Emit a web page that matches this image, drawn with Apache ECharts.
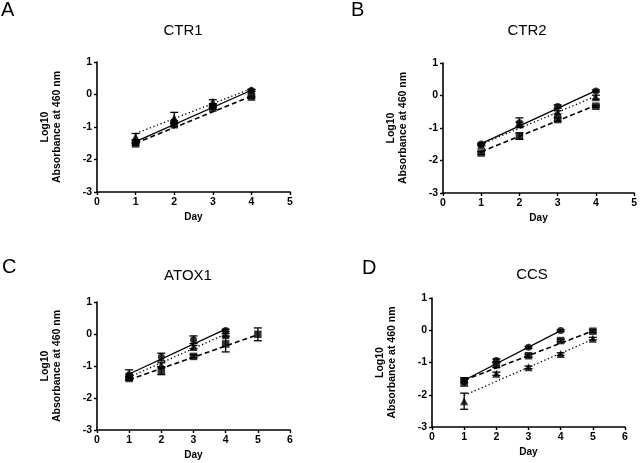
<!DOCTYPE html>
<html><head><meta charset="utf-8">
<script src="https://cdn.jsdelivr.net/npm/echarts@6/dist/echarts.min.js"></script>
<style>html,body{margin:0;padding:0;background:#fff}#c{width:640px;height:463px}</style>
</head><body><div id="c"></div>
<script>
// ---- data ----
const days = [1, 2, 3, 4, 5];
const panelLetters = ['A', 'B', 'C', 'D'];
const panelTitles = ['CTR1', 'CTR2', 'ATOX1', 'CCS'];
const xMaxes = [5, 5, 6, 6];
const yTicks = [-3, -2, -1, 0, 1];

// circle series (solid fit), square series (dashed fit), triangle series (dotted fit)
const A_circle = [-1.45, -0.85, -0.36, 0.12];
const A_square = [-1.52, -0.93, -0.42, -0.08];
const A_triangle = [-1.3, -0.72, -0.22, 0.13];
const A_circleErr = [0.05, 0.05, 0.04, 0.03];
const A_squareErr = [0.04, 0.05, 0.04, 0.03];
const A_triangleErr = [0.1, 0.17, 0.06, 0.03];
const A_fitCircle = [-1.45, 0.13];
const A_fitSquare = [-1.5, -0.05];
const A_fitTriangle = [-1.2, 0.18];

const B_circle = [-1.49, -0.84, -0.34, 0.14];
const B_square = [-1.77, -1.25, -0.74, -0.33];
const B_triangle = [-1.52, -0.88, -0.52, -0.05];
const B_circleErr = [0.03, 0.15, 0.05, 0.03];
const B_squareErr = [0.04, 0.1, 0.05, 0.03];
const B_triangleErr = [0.03, 0.06, 0.05, 0.06];
const B_fitCircle = [-1.48, 0.15];
const B_fitSquare = [-1.73, -0.3];
const B_fitTriangle = [-1.5, -0.02];

const C_circle = [-1.27, -0.72, -0.18, 0.11];
const C_square = [-1.39, -1.15, -0.7, -0.31, -0.01];
const C_triangle = [-1.3, -0.96, -0.41, -0.04];
const C_circleErr = [0.15, 0.12, 0.12, 0.04];
const C_squareErr = [0.06, 0.12, 0.05, 0.25, 0.2];
const C_triangleErr = [0.05, 0.06, 0.05, 0.05];
const C_fitCircle = [-1.25, 0.15];
const C_fitSquare = [-1.43, -0.02];
const C_fitTriangle = [-1.35, 0.0];

const D_circle = [-1.58, -0.94, -0.53, -0.01];
const D_square = [-1.6, -1.07, -0.79, -0.32, -0.03];
const D_triangle = [-2.2, -1.35, -1.15, -0.74, -0.26];
const D_circleErr = [0.05, 0.05, 0.03, 0.03];
const D_squareErr = [0.13, 0.08, 0.05, 0.04, 0.04];
const D_triangleErr = [0.25, 0.05, 0.04, 0.04, 0.04];
const D_fitCircle = [-1.55, -0.01];
const D_fitSquare = [-1.55, -0.02];
const D_fitTriangle = [-2.02, -0.28];

const panels = [
  {c: A_circle, s: A_square, t: A_triangle, ce: A_circleErr, se: A_squareErr, te: A_triangleErr, fc: A_fitCircle, fs: A_fitSquare, ft: A_fitTriangle},
  {c: B_circle, s: B_square, t: B_triangle, ce: B_circleErr, se: B_squareErr, te: B_triangleErr, fc: B_fitCircle, fs: B_fitSquare, ft: B_fitTriangle},
  {c: C_circle, s: C_square, t: C_triangle, ce: C_circleErr, se: C_squareErr, te: C_triangleErr, fc: C_fitCircle, fs: C_fitSquare, ft: C_fitTriangle},
  {c: D_circle, s: D_square, t: D_triangle, ce: D_circleErr, se: D_squareErr, te: D_triangleErr, fc: D_fitCircle, fs: D_fitSquare, ft: D_fitTriangle}
];

// ---- layout ----
const grids = [
  {left: 97, top: 62, width: 193, height: 130},
  {left: 443, top: 63, width: 193, height: 130},
  {left: 97, top: 302, width: 193, height: 128},
  {left: 432, top: 298, width: 193, height: 129}
];
const letterPos = [[1, 10], [351, 10], [2, 267], [362, 268]];
const titlePos = [[183, 31], [527, 31], [188, 276], [532, 275]];

const FONT = 'Liberation Sans, Arial, sans-serif';
const chart = echarts.init(document.getElementById('c'), null, {renderer: 'canvas'});

const option = {
  animation: false,
  backgroundColor: '#fff',
  grid: [], xAxis: [], yAxis: [], series: [], graphic: []
};

function pts(vals) { return vals.map((v, i) => [days[i], v]); }
function errData(vals, errs) { return vals.map((v, i) => [days[i], v - errs[i], v + errs[i]]); }
function fitData(f, n) { return [[days[0], f[0]], [days[n - 1], f[1]]]; }

function errSeries(idx, vals, errs) {
  return {
    type: 'custom', xAxisIndex: idx, yAxisIndex: idx, z: 3,
    data: errData(vals, errs),
    renderItem: function (params, api) {
      const x = api.value(0);
      const lo = api.coord([x, api.value(1)]);
      const hi = api.coord([x, api.value(2)]);
      const w = 4;
      const st = {stroke: '#000', lineWidth: 1.3};
      return {type: 'group', children: [
        {type: 'line', shape: {x1: lo[0], y1: lo[1], x2: hi[0], y2: hi[1]}, style: st},
        {type: 'line', shape: {x1: lo[0] - w, y1: lo[1], x2: lo[0] + w, y2: lo[1]}, style: st},
        {type: 'line', shape: {x1: hi[0] - w, y1: hi[1], x2: hi[0] + w, y2: hi[1]}, style: st}
      ]};
    }
  };
}

panels.forEach((p, i) => {
  const g = grids[i];
  option.grid.push(Object.assign({containLabel: false}, g));
  option.xAxis.push({
    type: 'value', gridIndex: i, min: 0, max: xMaxes[i], interval: 1,
    name: 'Day', nameLocation: 'middle', nameGap: 20,
    nameTextStyle: {fontFamily: FONT, fontWeight: 'bold', fontSize: 10, color: '#000'},
    axisLine: {show: true, onZero: false, lineStyle: {color: '#000', width: 1.6}},
    axisTick: {show: true, length: 3, lineStyle: {color: '#000', width: 1.4}},
    axisLabel: {fontFamily: FONT, fontWeight: 'bold', fontSize: 10.5, color: '#000', margin: 5},
    splitLine: {show: false}
  });
  option.yAxis.push({
    type: 'value', gridIndex: i, min: yTicks[0], max: yTicks[yTicks.length - 1], interval: 1,
    name: 'Log10\nAbsorbance at 460 nm', nameLocation: 'middle', nameGap: 34,
    nameTextStyle: {fontFamily: FONT, fontWeight: 'bold', fontSize: 10.5, color: '#000', lineHeight: 12},
    axisLine: {show: true, onZero: false, lineStyle: {color: '#000', width: 1.6}},
    axisTick: {show: true, length: 3, lineStyle: {color: '#000', width: 1.4}},
    axisLabel: {fontFamily: FONT, fontWeight: 'bold', fontSize: 10.5, color: '#000', margin: 5},
    splitLine: {show: false}
  });
  // fit lines
  option.series.push({type: 'line', xAxisIndex: i, yAxisIndex: i, showSymbol: false, silent: true, z: 2,
    data: fitData(p.fc, p.c.length), lineStyle: {color: '#000', width: 1.3, type: 'solid'}});
  option.series.push({type: 'line', xAxisIndex: i, yAxisIndex: i, showSymbol: false, silent: true, z: 2,
    data: fitData(p.fs, p.s.length), lineStyle: {color: '#000', width: 1.6, type: [5, 3]}});
  option.series.push({type: 'line', xAxisIndex: i, yAxisIndex: i, showSymbol: false, silent: true, z: 2,
    data: fitData(p.ft, p.t.length), lineStyle: {color: '#000', width: 1.3, type: [1.3, 2.5]}});
  // error bars
  option.series.push(errSeries(i, p.c, p.ce));
  option.series.push(errSeries(i, p.s, p.se));
  option.series.push(errSeries(i, p.t, p.te));
  // markers
  option.series.push({type: 'scatter', xAxisIndex: i, yAxisIndex: i, z: 4, symbol: 'circle', symbolSize: 7,
    data: pts(p.c), itemStyle: {color: '#000'}});
  option.series.push({type: 'scatter', xAxisIndex: i, yAxisIndex: i, z: 4, symbol: 'rect', symbolSize: 7.5,
    data: pts(p.s), itemStyle: {color: '#000'}});
  option.series.push({type: 'scatter', xAxisIndex: i, yAxisIndex: i, z: 4, symbol: 'triangle', symbolSize: 8,
    data: pts(p.t), itemStyle: {color: '#000'}});
  // letters and titles
  option.graphic.push({type: 'text', x: letterPos[i][0], y: letterPos[i][1],
    style: {text: panelLetters[i], font: '20px ' + FONT, fill: '#000', textAlign: 'left', textVerticalAlign: 'middle'}});
  option.graphic.push({type: 'text', x: titlePos[i][0], y: titlePos[i][1],
    style: {text: panelTitles[i], font: '15px ' + FONT, fill: '#000', textAlign: 'center', textVerticalAlign: 'middle'}});
});

chart.setOption(option);
</script>
</body></html>
